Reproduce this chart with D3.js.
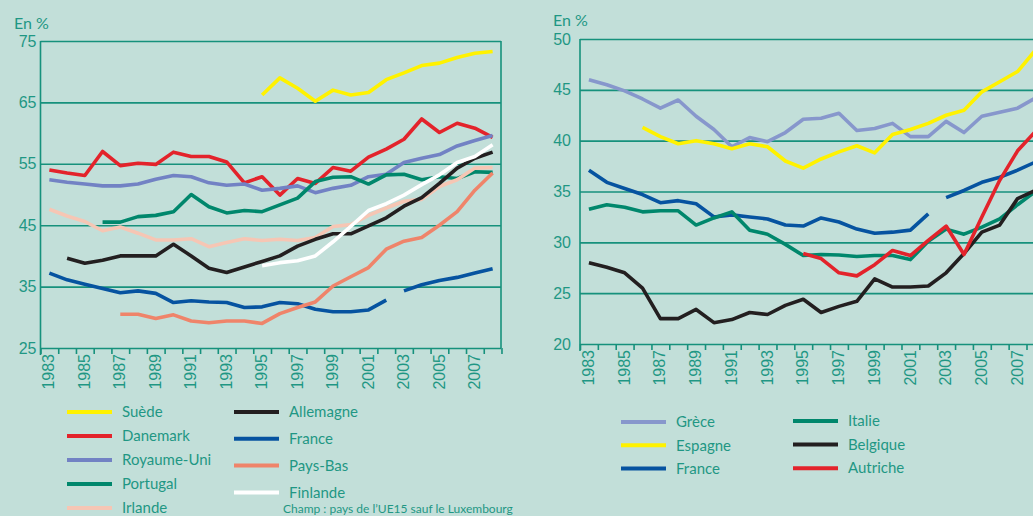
<!DOCTYPE html>
<html>
<head>
<meta charset="utf-8">
<script src="https://cdn.jsdelivr.net/npm/d3@7"></script>
<style>
  html, body { margin: 0; padding: 0; background: #c2dfd9; }
  svg { display: block; font-family: Lato, 'Noto Sans', sans-serif; }
</style>
</head>
<body>
<script>
// years 1983..2008, one value per year (null = no data)
const years = [1983, 1984, 1985, 1986, 1987, 1988, 1989, 1990, 1991, 1992, 1993, 1994, 1995,
  1996, 1997, 1998, 1999, 2000, 2001, 2002, 2003, 2004, 2005, 2006, 2007, 2008]
const yearLabels = [1983, 1985, 1987, 1989, 1991, 1993, 1995, 1997, 1999, 2001, 2003, 2005, 2007]
const franceBreak = 2003 // rupture de série

// left panel
const leftTicks = [25, 35, 45, 55, 65, 75]
const suede = [null, null, null, null, null, null, null, null, null, null, null, null,
  66.2, 69.0, 67.3, 65.2, 67.0, 66.2, 66.6, 68.7, 69.8, 71.0, 71.4, 72.3, 73.0, 73.3]
const danemark = [54.0, 53.5, 53.1, 57.0, 54.7, 55.1, 54.9, 56.9, 56.2, 56.2, 55.3, 51.9, 52.9,
  49.9, 52.6, 51.8, 54.4, 53.8, 56.1, 57.4, 59.0, 62.3, 60.1, 61.6, 60.8, 59.3]
const royaumeUni = [52.4, 52.0, 51.7, 51.4, 51.4, 51.7, 52.5, 53.1, 52.9, 51.9, 51.5, 51.7, 50.7,
  51.0, 51.4, 50.3, 51.0, 51.5, 52.9, 53.3, 55.2, 55.9, 56.5, 57.9, 58.8, 59.6]
const portugal = [null, null, null, 45.5, 45.5, 46.4, 46.6, 47.2, 50.0, 48.0, 47.0, 47.4, 47.2,
  48.3, 49.4, 52.1, 52.8, 52.9, 51.7, 53.2, 53.3, 52.4, 52.9, 52.6, 53.7, 53.6]
const irlande = [47.6, 46.5, 45.6, 44.1, 44.7, 43.7, 42.6, 42.6, 42.8, 41.5, 42.2, 42.8, 42.5,
  42.7, 42.5, 43.0, 44.8, 45.1, 46.6, 47.8, 48.9, 49.2, 51.3, 52.4, 54.3, 54.4]
const allemagne = [null, 39.6, 38.8, 39.3, 40.0, 40.0, 40.0, 41.9, 40.0, 38.0, 37.3, 38.2, 39.1,
  40.0, 41.6, 42.7, 43.6, 43.6, 44.9, 46.2, 48.1, 49.5, 51.8, 54.3, 55.9, 56.9]
const franceL = [37.2, 36.1, 35.4, 34.7, 34.0, 34.3, 33.9, 32.4, 32.7, 32.5, 32.4, 31.6, 31.7,
  32.4, 32.2, 31.3, 30.9, 30.9, 31.2, 32.8, 34.3, 35.3, 36.0, 36.5, 37.2, 37.9]
const paysBas = [null, null, null, null, 30.5, 30.5, 29.8, 30.4, 29.4, 29.1, 29.4, 29.4, 29.0,
  30.6, 31.6, 32.5, 35.1, 36.6, 38.1, 41.1, 42.4, 43.0, 45.0, 47.2, 50.7, 53.5]
const finlande = [null, null, null, null, null, null, null, null, null, null, null, null,
  38.4, 38.9, 39.2, 40.0, 42.3, 44.8, 47.4, 48.5, 49.9, 51.6, 53.2, 55.2, 56.2, 58.1]

// right panel
const rightTicks = [20, 25, 30, 35, 40, 45, 50]
const grece = [46.0, 45.5, 44.9, 44.1, 43.2, 44.0, 42.4, 41.1, 39.4, 40.3, 39.9, 40.8, 42.1,
  42.2, 42.7, 41.0, 41.2, 41.7, 40.4, 40.4, 41.9, 40.8, 42.4, 42.8, 43.2, 44.2]
const espagne = [null, null, null, 41.3, 40.4, 39.7, 40.0, 39.7, 39.2, 39.7, 39.4, 38.0, 37.3,
  38.2, 38.9, 39.5, 38.8, 40.6, 41.1, 41.7, 42.5, 43.0, 44.8, 45.8, 46.8, 48.9]
const franceR = [37.1, 35.9, 35.3, 34.7, 33.9, 34.1, 33.8, 32.5, 32.7, 32.5, 32.3, 31.7, 31.6,
  32.4, 32.0, 31.3, 30.9, 31.0, 31.2, 32.8, 34.4, 35.1, 35.9, 36.4, 37.1, 37.9]
const italie = [33.25, 33.7, 33.45, 33.0, 33.1, 33.1, 31.7, 32.4, 33.0, 31.2, 30.8, 29.8, 28.7,
  28.8, 28.75, 28.6, 28.7, 28.7, 28.3, 30.1, 31.3, 30.8, 31.5, 32.3, 33.7, 35.0]
const belgique = [28.0, 27.55, 27.0, 25.5, 22.5, 22.5, 23.4, 22.1, 22.4, 23.1, 22.9, 23.8, 24.4,
  23.1, 23.7, 24.2, 26.4, 25.6, 25.6, 25.7, 27.0, 28.9, 31.0, 31.7, 34.3, 35.1]
const autriche = [null, null, null, null, null, null, null, null, null, null, null, null,
  28.9, 28.4, 27.0, 26.7, 27.8, 29.2, 28.7, 30.2, 31.6, 28.8, 32.5, 36.1, 39.0, 40.9]

const teal = '#16917c'
const textCol = '#1f9784'
const colors = {
  yellow: '#fff200', red: '#e3232b', lavender: '#7282c4', lilac: '#8797cc', green: '#00876c',
  pink: '#f6c6b4', black: '#231f20', blue: '#0653a0', salmon: '#ef846a', white: '#ffffff'
}

const leftSeries = [
  { name: 'Suède', values: suede, color: colors.yellow },
  { name: 'Danemark', values: danemark, color: colors.red },
  { name: 'Royaume-Uni', values: royaumeUni, color: colors.lavender },
  { name: 'Portugal', values: portugal, color: colors.green },
  { name: 'Irlande', values: irlande, color: colors.pink },
  { name: 'Allemagne', values: allemagne, color: colors.black },
  { name: 'France', values: franceL, color: colors.blue, broken: true },
  { name: 'Pays-Bas', values: paysBas, color: colors.salmon },
  { name: 'Finlande', values: finlande, color: colors.white }
]
const rightSeries = [
  { name: 'Grèce', values: grece, color: colors.lilac },
  { name: 'Espagne', values: espagne, color: colors.yellow },
  { name: 'France', values: franceR, color: colors.blue, broken: true },
  { name: 'Italie', values: italie, color: colors.green },
  { name: 'Belgique', values: belgique, color: colors.black },
  { name: 'Autriche', values: autriche, color: colors.red }
]

const svg = d3.select('body').append('svg').attr('width', 1033).attr('height', 516)
svg.append('rect').attr('width', 1033).attr('height', 516).attr('fill', '#c2dfd9')

const drawPanel = ({ x0, x1, step, y0, y1, yDomain, ticks, series, labelX, frame }) => {
  const g = svg.append('g')
  const x = d3.scaleLinear().domain([1982.5, 2008.5]).range([x0, x0 + 26 * step])
  const y = d3.scaleLinear().domain(yDomain).range([y1, y0])
  const w = x1 - x0

  // grid + y labels
  const yAxis = g.append('g').attr('transform', `translate(${x0},0)`)
    .call(d3.axisLeft(y).tickValues(ticks).tickSize(-w).tickPadding(labelX))
  yAxis.select('.domain').remove()
  yAxis.selectAll('line').attr('stroke', teal).attr('stroke-width', 1.6)
  yAxis.selectAll('text').attr('fill', textCol).attr('font-size', 16)

  g.append('line').attr('x1', x0).attr('x2', x0).attr('y1', y0).attr('y2', y1 + 7)
    .attr('stroke', teal).attr('stroke-width', 1.6)
  if (frame) g.append('line').attr('x1', x1).attr('x2', x1).attr('y1', y0).attr('y2', y1)
    .attr('stroke', teal).attr('stroke-width', 1.6)

  // x tick marks at year boundaries
  const xTicks = g.append('g').attr('transform', `translate(0,${y1})`)
    .call(d3.axisBottom(x).tickValues(d3.range(1982.5, 2009, 1)).tickSize(6).tickFormat(''))
  xTicks.select('.domain').remove()
  xTicks.selectAll('line').attr('stroke', teal).attr('stroke-width', 1.6)

  // x labels
  const xLab = g.append('g').attr('transform', `translate(0,${y1})`)
    .call(d3.axisBottom(x).tickValues(yearLabels).tickSize(0).tickFormat(d3.format('d')))
  xLab.select('.domain').remove()
  xLab.selectAll('text')
    .attr('fill', textCol).attr('font-size', 16)
    .attr('transform', 'rotate(-90)')
    .attr('text-anchor', 'end')
    .attr('x', -6).attr('y', -1).attr('dy', '0.35em')

  const line = d3.line()
    .defined(d => d.v != null)
    .x(d => x(d.year)).y(d => y(d.v))

  series.forEach(s => {
    const pts = years.map((year, i) => ({ year, v: s.values[i] }))
    const parts = s.broken
      ? [pts.filter(d => d.year < franceBreak), pts.filter(d => d.year >= franceBreak)]
      : [pts]
    parts.forEach(p => {
      g.append('path').datum(p).attr('d', line)
        .attr('fill', 'none').attr('stroke', s.color).attr('stroke-width', 3.6)
        .attr('stroke-linejoin', 'round')
    })
  })
  return g
}

drawPanel({ x0: 40.5, x1: 501, step: 17.73, y0: 41, y1: 348, yDomain: [25, 75],
  ticks: leftTicks, series: leftSeries, labelX: 4, frame: true })
drawPanel({ x0: 580, x1: 1033, step: 17.86, y0: 39, y1: 344, yDomain: [20, 50],
  ticks: rightTicks, series: rightSeries, labelX: 9, frame: false })

svg.append('text').attr('x', 14).attr('y', 29).text('En %')
  .attr('fill', textCol).attr('font-size', 16)
svg.append('text').attr('x', 553).attr('y', 26).text('En %')
  .attr('fill', textCol).attr('font-size', 16)

// legends
const legend = (items, lx, ly, dy) => {
  items.forEach((s, i) => {
    const yy = ly + i * dy
    svg.append('line').attr('x1', lx).attr('x2', lx + 45).attr('y1', yy).attr('y2', yy)
      .attr('stroke', s.color).attr('stroke-width', 4)
    svg.append('text').attr('x', lx + 55).attr('y', yy).attr('dy', '0.35em')
      .attr('fill', textCol).attr('font-size', 15).text(s.name)
  })
}
legend(leftSeries.slice(0, 5), 67, 412, 24)
legend(leftSeries.slice(5), 234, 412, 26.8)
legend(rightSeries.slice(0, 3), 621, 422, 23.3)
legend(rightSeries.slice(3), 793, 421, 23.6)

// source note, kept inside the frame
svg.append('text').attr('x', 283).attr('y', 513)
  .attr('fill', textCol).attr('font-size', 12)
  .text('Champ : pays de l\u2019UE15 sauf le Luxembourg')
</script>
</body>
</html>
